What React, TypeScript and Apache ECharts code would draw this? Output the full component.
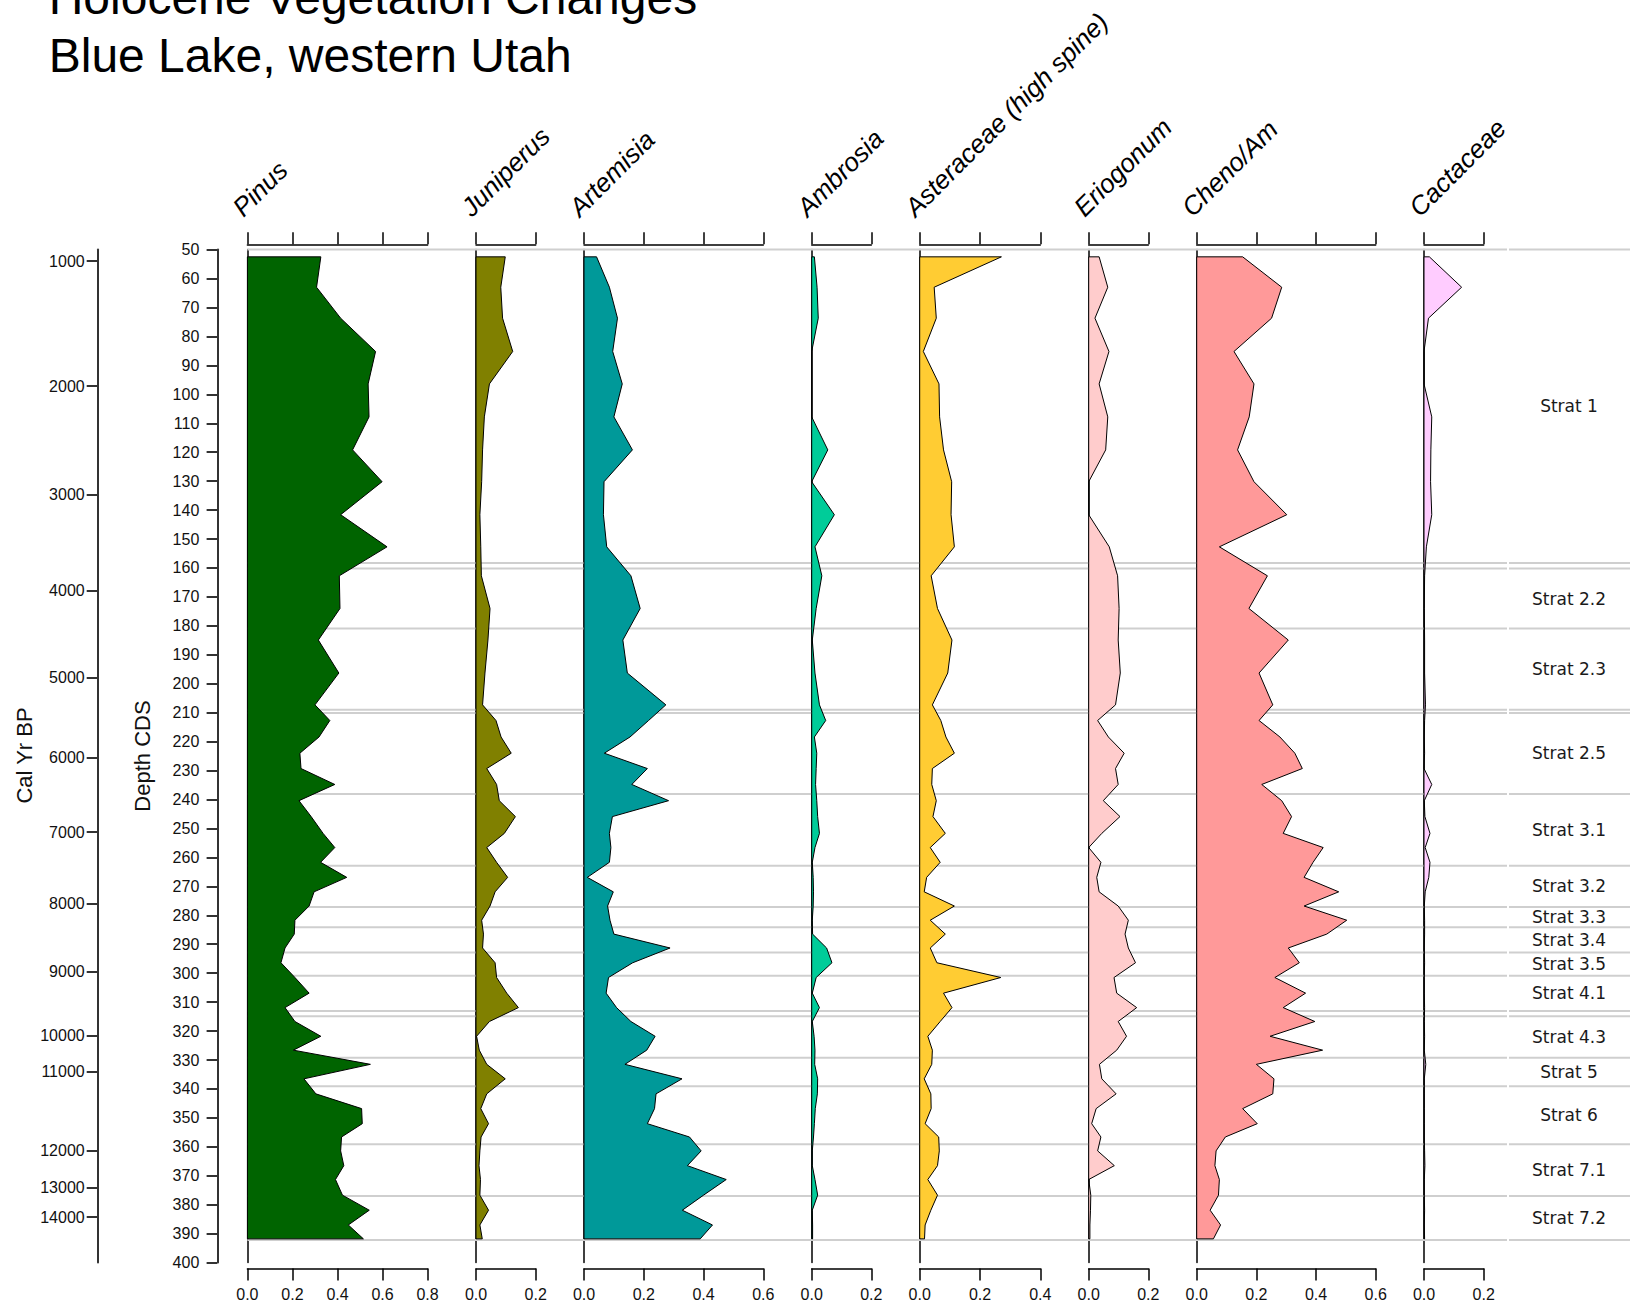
import React, { useEffect, useRef } from "react";
import * as echarts from "echarts";

// ---------------- DATA ----------------
const DEPTHS = [
  52.5, 63, 73.7, 85.2, 96.4, 107.8, 119.2, 130.2, 141.6, 152.7,
  162.7, 174, 184.9, 196.3, 207.3, 212.7, 218.4, 224, 229.3, 234.8,
  240.4, 245.9, 251.7, 256.6, 261.7, 266.9, 271.9, 276.8, 281.7, 286.5,
  291.3, 296.4, 301.5, 306.9, 311.9, 316.7, 321.8, 326.6, 331.5, 336.5,
  341.7, 346.8, 352, 356.6, 361.4, 366.5, 371.3, 376.7, 381.9, 387, 391.8,
];

const PINUS = [
  0.326, 0.307, 0.414, 0.569, 0.536, 0.54, 0.467, 0.598, 0.414, 0.62,
  0.408, 0.411, 0.315, 0.406, 0.3, 0.366, 0.318, 0.233, 0.238, 0.388,
  0.229, 0.283, 0.336, 0.388, 0.325, 0.441, 0.296, 0.274, 0.211, 0.208,
  0.167, 0.149, 0.211, 0.274, 0.167, 0.211, 0.326, 0.204, 0.546, 0.251,
  0.304, 0.507, 0.51, 0.418, 0.414, 0.428, 0.391, 0.422, 0.541, 0.448, 0.515,
];
const JUNIPERUS = [
  0.098, 0.083, 0.089, 0.123, 0.045, 0.028, 0.022, 0.019, 0.013, 0.016,
  0.018, 0.047, 0.04, 0.03, 0.022, 0.067, 0.084, 0.118, 0.036, 0.069,
  0.078, 0.132, 0.095, 0.036, 0.069, 0.106, 0.064, 0.047, 0.019, 0.025,
  0.022, 0.064, 0.069, 0.103, 0.142, 0.045, 0.002, 0.011, 0.036, 0.098,
  0.036, 0.016, 0.042, 0.017, 0.013, 0.01, 0.015, 0.013, 0.042, 0.013, 0.021,
];
const ARTEMISIA = [
  0.042, 0.085, 0.112, 0.096, 0.128, 0.1, 0.162, 0.067, 0.065, 0.076,
  0.157, 0.188, 0.13, 0.145, 0.274, 0.216, 0.154, 0.068, 0.212, 0.16,
  0.283, 0.095, 0.085, 0.09, 0.085, 0.011, 0.098, 0.079, 0.087, 0.1,
  0.288, 0.163, 0.082, 0.074, 0.109, 0.157, 0.238, 0.21, 0.137, 0.328,
  0.241, 0.236, 0.212, 0.353, 0.392, 0.346, 0.476, 0.4, 0.329, 0.43, 0.389,
];
const AMBROSIA = [
  0.009, 0.018, 0.022, 0, 0, 0, 0.054, 0, 0.076, 0.011,
  0.034, 0.015, 0.002, 0.011, 0.026, 0.047, 0.009, 0.017, 0.015, 0.013,
  0.017, 0.02, 0.026, 0.011, 0.002, 0.005, 0.006, 0.005, 0.002, 0.003,
  0.05, 0.068, 0.015, 0.002, 0.026, 0.002, 0.008, 0.011, 0.01, 0.02,
  0.019, 0.012, 0.009, 0.006, 0.002, 0.002, 0.011, 0.02, 0.002, 0.003, 0.003,
];
const ASTERACEAE = [
  0.271, 0.048, 0.055, 0.012, 0.064, 0.066, 0.079, 0.106, 0.104, 0.115,
  0.038, 0.059, 0.107, 0.093, 0.042, 0.07, 0.087, 0.115, 0.042, 0.04,
  0.055, 0.044, 0.085, 0.035, 0.068, 0.023, 0.015, 0.115, 0.035, 0.085,
  0.035, 0.057, 0.269, 0.079, 0.107, 0.068, 0.027, 0.042, 0.04, 0.015,
  0.037, 0.038, 0.018, 0.063, 0.065, 0.059, 0.027, 0.059, 0.037, 0.018, 0.016,
];
const ERIOGONUM = [
  0.035, 0.064, 0.021, 0.068, 0.035, 0.064, 0.057, 0, 0, 0.069,
  0.097, 0.102, 0.099, 0.106, 0.09, 0.03, 0.066, 0.119, 0.09, 0.099,
  0.049, 0.105, 0.044, 0, 0.041, 0.027, 0.035, 0.099, 0.133, 0.122,
  0.133, 0.157, 0.085, 0.094, 0.161, 0.099, 0.127, 0.094, 0.036, 0.044,
  0.092, 0.025, 0.01, 0.041, 0.03, 0.086, 0, 0.007, 0.006, 0.004, 0.004,
];
const CHENO_AM = [
  0.154, 0.285, 0.251, 0.125, 0.192, 0.176, 0.137, 0.192, 0.302, 0.076,
  0.237, 0.175, 0.307, 0.209, 0.255, 0.209, 0.279, 0.329, 0.354, 0.218,
  0.285, 0.318, 0.29, 0.424, 0.39, 0.36, 0.476, 0.36, 0.503, 0.436,
  0.307, 0.344, 0.262, 0.365, 0.29, 0.396, 0.246, 0.422, 0.2, 0.259,
  0.255, 0.154, 0.203, 0.096, 0.065, 0.061, 0.076, 0.073, 0.045, 0.08, 0.056,
];
const CACTACEAE = [
  0.018, 0.126, 0.015, 0, 0, 0.026, 0.023, 0.022, 0.026, 0.008,
  0.002, 0.001, 0.002, 0.002, 0.005, 0.002, 0.001, 0.002, 0, 0.026,
  0.001, 0.003, 0.02, 0.004, 0.02, 0.016, 0.004, 0.001, 0.002, 0.002,
  0.001, 0.002, 0.001, 0.001, 0.002, 0.001, 0.002, 0.001, 0.006, 0.001,
  0.001, 0.001, 0.001, 0.001, 0.002, 0.003, 0.001, 0.001, 0.002, 0.001, 0.002,
];

const TAXON_NAMES = [
  "Pinus", "Juniperus", "Artemisia", "Ambrosia",
  "Asteraceae (high spine)", "Eriogonum", "Cheno/Am", "Cactaceae",
];
const TAXON_VALUES = [PINUS, JUNIPERUS, ARTEMISIA, AMBROSIA, ASTERACEAE, ERIOGONUM, CHENO_AM, CACTACEAE];
const X_MAX = [0.8, 0.2, 0.6, 0.2, 0.4, 0.2, 0.6, 0.2];
const X_INTERVAL = 0.2;

const DEPTH_MIN = 50;
const DEPTH_MAX = 400;
const DEPTH_INTERVAL = 10;

const CAL_AGES = [1000, 2000, 3000, 4000, 5000, 6000, 7000, 8000, 9000, 10000, 11000, 12000, 13000, 14000];
const CAL_DEPTHS = [54, 97.2, 134.7, 167.8, 198, 225.5, 251.3, 276, 299.4, 321.5, 334, 361.4, 374, 384.3];

const ZONE_BOUNDS = [50, 158.3, 160.2, 180.9, 209.0, 210.1, 238.1, 262.9, 277.1, 284.1, 292.9, 300.9, 313.1, 314.9, 329.2, 339.1, 359.1, 377.0, 392.2];
const ZONE_NAMES = [
  "Strat 1", "", "Strat 2.2", "Strat 2.3", "", "Strat 2.5", "Strat 3.1", "Strat 3.2",
  "Strat 3.3", "Strat 3.4", "Strat 3.5", "Strat 4.1", "", "Strat 4.3", "Strat 5",
  "Strat 6", "Strat 7.1", "Strat 7.2",
];

const TITLE_LINES = ["Holocene Vegetation Changes", "Blue Lake, western Utah"];

// ---------------- STYLE / LAYOUT ----------------
const COLORS = ["#006400", "#808000", "#009999", "#00CC99", "#FFCC33", "#FFCCCC", "#FF9999", "#FFCCFF"];
const PANEL_LEFT = [247.4, 476, 584, 811.7, 919.7, 1088.7, 1196.7, 1424];
const PANEL_WIDTH = [180.2, 59.7, 179.3, 59.6, 120.6, 59.6, 179, 59.7];
const PLOT_TOP = 249.6;
const PLOT_HEIGHT = 1013;
const W = 1630;
const H = 1308;
const LABEL_COL_LEFT = 1508;
const FONT = "Liberation Sans";

export default function App() {
  const ref = useRef<HTMLDivElement>(null);

  useEffect(() => {
    if (!ref.current) return;
    const chart = echarts.init(ref.current, undefined, { renderer: "svg" });

    const grid: any[] = [];
    const xAxis: any[] = [];
    const yAxis: any[] = [];
    const series: any[] = [];
    const graphic: any[] = [];

    const axisLineStyle = { color: "#000", width: 1.5 };

    TAXON_NAMES.forEach((name, i) => {
      grid.push({ left: PANEL_LEFT[i], top: PLOT_TOP, width: PANEL_WIDTH[i], height: PLOT_HEIGHT, containLabel: false });
      // top axis
      xAxis.push({
        type: "value", gridIndex: i, position: "top", offset: 5.3,
        min: 0, max: X_MAX[i], interval: X_INTERVAL,
        axisLine: { show: true, onZero: false, lineStyle: axisLineStyle },
        axisTick: { show: true, inside: false, length: 12, lineStyle: axisLineStyle },
        axisLabel: { show: false },
        splitLine: { show: false },
      });
      // bottom axis
      xAxis.push({
        type: "value", gridIndex: i, position: "bottom", offset: 6,
        min: 0, max: X_MAX[i], interval: X_INTERVAL,
        axisLine: { show: true, onZero: false, lineStyle: axisLineStyle },
        axisTick: { show: true, inside: false, length: 12, lineStyle: axisLineStyle },
        axisLabel: {
          show: true, margin: 17.5, color: "#111", fontSize: 16, fontFamily: FONT,
          formatter: (v: number) => v.toFixed(1),
        },
        splitLine: { show: false },
      });
      yAxis.push({
        type: "value", gridIndex: i, position: "left", inverse: true,
        min: DEPTH_MIN, max: DEPTH_MAX,
        axisLine: { show: true, onZero: false, lineStyle: axisLineStyle },
        axisTick: { show: false },
        axisLabel: { show: false },
        splitLine: { show: false },
      });

      const vals = TAXON_VALUES[i];
      const color = COLORS[i];
      series.push({
        type: "custom",
        xAxisIndex: i * 2 + 1,
        yAxisIndex: i,
        z: 5,
        silent: true,
        data: vals.map((v, k) => [v, DEPTHS[k]]),
        renderItem: (params: any, api: any) => {
          if (params.dataIndex !== 0) return null;
          const pts: number[][] = [api.coord([0, DEPTHS[0]])];
          for (let k = 0; k < vals.length; k++) pts.push(api.coord([vals[k], DEPTHS[k]]));
          pts.push(api.coord([0, DEPTHS[DEPTHS.length - 1]]));
          return {
            type: "polygon",
            shape: { points: pts },
            style: { fill: color, stroke: "#000", lineWidth: 1 },
          };
        },
      });

      // taxon label (rotated 45deg)
      const fs = 26;
      const bx = PANEL_LEFT[i] - 4;
      const by = 218;
      const off = 0.3465 * fs * Math.SQRT1_2;
      graphic.push({
        type: "text",
        x: bx - off,
        y: by - off,
        rotation: Math.PI / 4,
        silent: true,
        style: {
          text: name, fill: "#000", fontSize: fs, fontStyle: "italic", fontFamily: FONT,
          align: "left", verticalAlign: "middle",
        },
      });
    });

    // depth axis (on Pinus grid)
    yAxis.push({
      type: "value", gridIndex: 0, position: "left", inverse: true, offset: PANEL_LEFT[0] - 217.3,
      min: DEPTH_MIN, max: DEPTH_MAX, interval: DEPTH_INTERVAL,
      axisLine: { show: true, onZero: false, lineStyle: { color: "#333", width: 2 } },
      axisTick: { show: true, inside: false, length: 10.7, lineStyle: { color: "#333", width: 2 } },
      axisLabel: { show: true, margin: 18, color: "#111", fontSize: 16, fontFamily: FONT },
      splitLine: { show: false },
    });
    // cal yr BP axis
    yAxis.push({
      type: "value", gridIndex: 0, position: "left", inverse: true, offset: PANEL_LEFT[0] - 97.7,
      min: DEPTH_MIN, max: DEPTH_MAX,
      axisLine: { show: true, onZero: false, lineStyle: { color: "#333", width: 2 } },
      axisTick: { show: true, inside: false, length: 11, customValues: CAL_DEPTHS, lineStyle: { color: "#333", width: 2 } },
      axisLabel: {
        show: true, margin: 13, color: "#111", fontSize: 16, fontFamily: FONT,
        customValues: CAL_DEPTHS,
        formatter: (v: number) => {
          const idx = CAL_DEPTHS.findIndex((d) => Math.abs(d - v) < 1e-6);
          return idx >= 0 ? String(CAL_AGES[idx]) : "";
        },
      },
      splitLine: { show: false },
    });

    // zone grid
    const zoneGrid = TAXON_NAMES.length;
    grid.push({ left: PANEL_LEFT[0], top: PLOT_TOP, right: 0, height: PLOT_HEIGHT, containLabel: false });
    const zoneX = xAxis.length;
    xAxis.push({ type: "value", gridIndex: zoneGrid, min: 0, max: 1, show: false });
    const zoneY = yAxis.length;
    yAxis.push({ type: "value", gridIndex: zoneGrid, min: DEPTH_MIN, max: DEPTH_MAX, inverse: true, show: false });

    series.push({
      type: "custom",
      xAxisIndex: zoneX,
      yAxisIndex: zoneY,
      z: 1,
      silent: true,
      data: ZONE_BOUNDS.map((d) => [0, d]),
      renderItem: (params: any, api: any) => {
        const y = api.coord([0, api.value(1)])[1];
        const cs = params.coordSys;
        const st = { stroke: "#cfcfcf", lineWidth: 2 };
        return {
          type: "group",
          children: [
            { type: "line", shape: { x1: cs.x, y1: y, x2: LABEL_COL_LEFT - 1, y2: y }, style: st },
            { type: "line", shape: { x1: LABEL_COL_LEFT + 1, y1: y, x2: cs.x + cs.width, y2: y }, style: st },
          ],
        };
      },
    });

    const zoneMids: number[][] = [];
    const zoneLabels: string[] = [];
    ZONE_NAMES.forEach((n, k) => {
      if (!n) return;
      zoneMids.push([0, (ZONE_BOUNDS[k] + ZONE_BOUNDS[k + 1]) / 2]);
      zoneLabels.push(n);
    });
    series.push({
      type: "custom",
      xAxisIndex: zoneX,
      yAxisIndex: zoneY,
      z: 6,
      silent: true,
      data: zoneMids,
      renderItem: (params: any, api: any) => {
        const y = api.coord([0, api.value(1)])[1];
        const cs = params.coordSys;
        return {
          type: "text",
          x: (LABEL_COL_LEFT + cs.x + cs.width) / 2,
          y,
          style: {
            text: zoneLabels[params.dataIndex], fill: "#1a1a1a", fontSize: 17, fontFamily: "DejaVu Sans",
            align: "center", verticalAlign: "middle",
          },
        };
      },
    });

    // title
    graphic.push({
      type: "text", x: 48.7, y: 14.5 - 0.3465 * 48, silent: true,
      style: { text: TITLE_LINES[0], fill: "#000", fontSize: 48, fontFamily: FONT, align: "left", verticalAlign: "middle" },
    });
    graphic.push({
      type: "text", x: 48.7, y: 71.7 - 0.3465 * 48, silent: true,
      style: { text: TITLE_LINES[1], fill: "#000", fontSize: 48, fontFamily: FONT, align: "left", verticalAlign: "middle" },
    });
    // axis names
    graphic.push({
      type: "text", x: 31.7 - 0.3465 * 22, y: 755.5, rotation: Math.PI / 2, silent: true,
      style: { text: "Cal Yr BP", fill: "#111", fontSize: 22, fontFamily: FONT, align: "center", verticalAlign: "middle" },
    });
    graphic.push({
      type: "text", x: 150.5 - 0.3465 * 22, y: 756, rotation: Math.PI / 2, silent: true,
      style: { text: "Depth CDS", fill: "#111", fontSize: 22, fontFamily: FONT, align: "center", verticalAlign: "middle" },
    });

    chart.setOption({
      animation: false,
      backgroundColor: "#fff",
      grid,
      xAxis,
      yAxis,
      series,
      graphic,
    });

    return () => chart.dispose();
  }, []);

  return (
    <div
      ref={ref}
      style={{ position: "fixed", left: 0, top: 0, width: W, height: H, background: "#fff" }}
    />
  );
}
